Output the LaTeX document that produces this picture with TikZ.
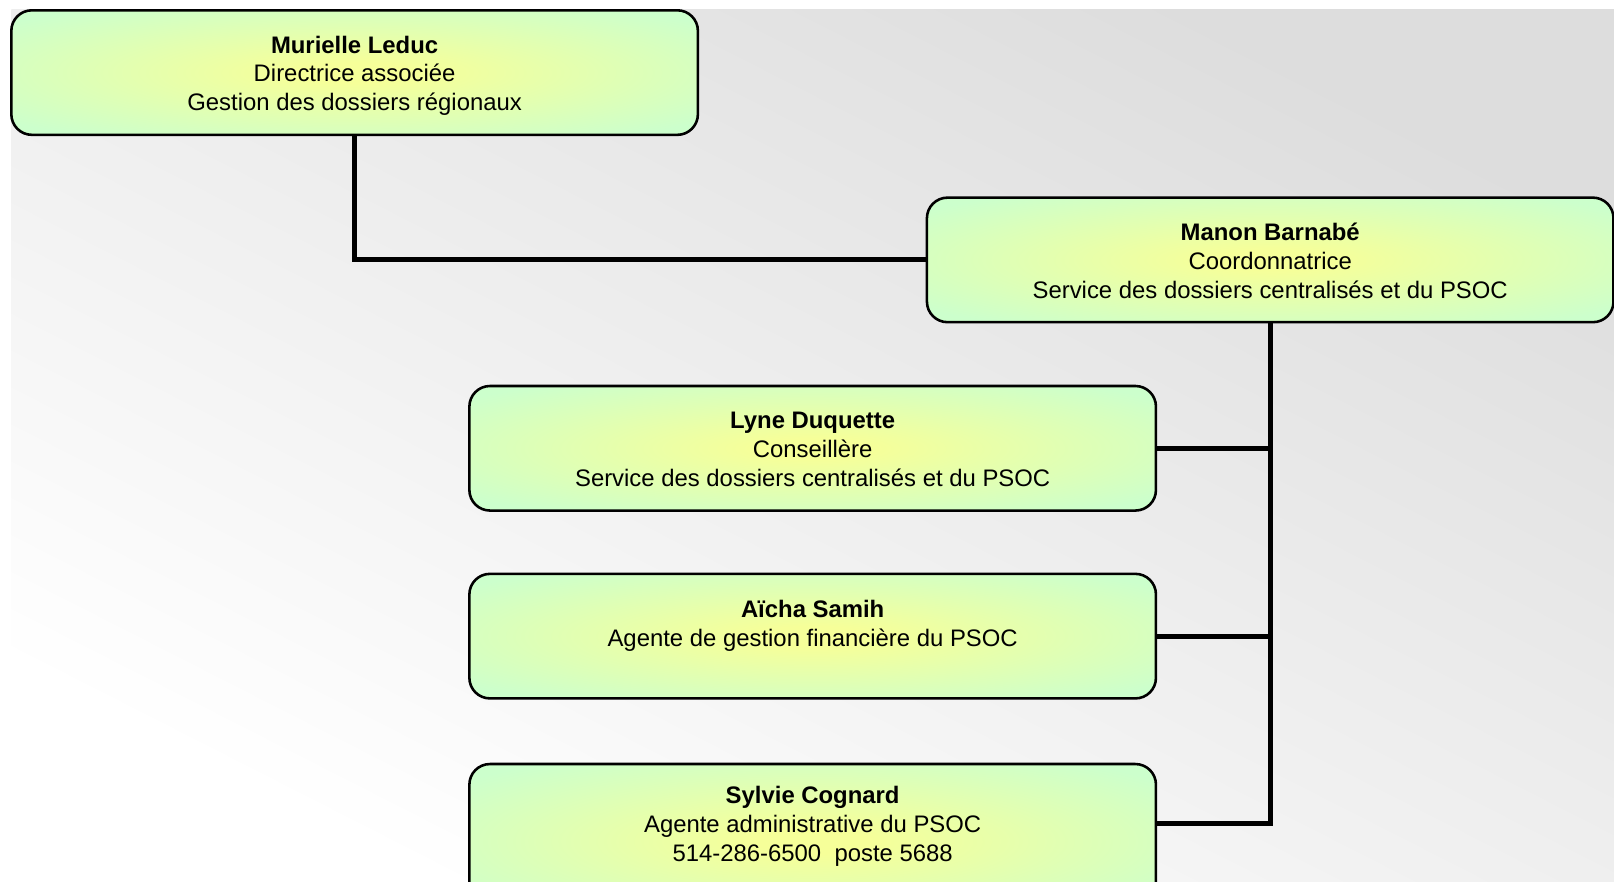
\documentclass[tikz,border=0pt]{standalone}
\usepackage{fontspec}
\setmainfont{Liberation Sans}
\definecolor{yc}{RGB}{246,255,153}
\definecolor{gc}{RGB}{204,255,204}
\definecolor{bgg}{RGB}{221,221,221}
\pgfdeclareradialshading{boxshade}{\pgfpoint{0bp}{0bp}}{color(0bp)=(yc); color(4bp)=(yc); color(32bp)=(gc); color(50bp)=(gc)}
\tikzset{
  box/.style={draw=black, line width=1.25pt, rounded corners=10pt, shading=boxshade,
    minimum width=333.5pt, minimum height=60.5pt, inner sep=0pt},
  txt/.style={align=center, inner sep=0pt, font=\fontsize{11.6}{14}\selectfont},
  conn/.style={line width=2.5pt}
}
\begin{document}
\begin{tikzpicture}[x=0.5pt,y=-0.5pt]
\useasboundingbox (0,0) rectangle (1568,856);
\clip (0,0) rectangle (1568,856);
\shade[top color=bgg, bottom color=white, shading angle=-27] (11,9) rectangle (1568,856);

\node[box] (m) at (344.5,70.5) {};
\node[box] (b) at (1234,252.5) {};
\node[box] (l) at (789.5,435.5) {};
\node[box] (a) at (789.5,618) {};
\node[box, minimum height=75pt, anchor=north] (s) at (789.5,741) {};
\coordinate (sj) at (789.5,800);

\node[txt] (mt) at (344.5,73.5) {\textbf{Murielle Leduc}\\Directrice associée\\Gestion des dossiers régionaux};
\node[txt] (bt) at (1234,253.5) {\textbf{Manon Barnabé}\\Coordonnatrice\\Service des dossiers centralisés et du PSOC};
\node[txt] (lt) at (789.5,436.5) {\textbf{Lyne Duquette}\\Conseillère\\Service des dossiers centralisés et du PSOC};
\node[txt] (at) at (789.5,608) {\textbf{Aïcha Samih}\\Agente de gestion financière du PSOC};
\node[txt] (st) at (789.5,803) {\textbf{Sylvie Cognard}\\Agente administrative du PSOC\\514-286-6500~~poste 5688};

\draw[conn] (m.south) |- (b.west);
\draw[conn] (b.south) |- (s.east |- sj);
\draw[conn] (l.east) -- (l.east -| b.south);
\draw[conn] (a.east) -- (a.east -| b.south);
\end{tikzpicture}
\end{document}
